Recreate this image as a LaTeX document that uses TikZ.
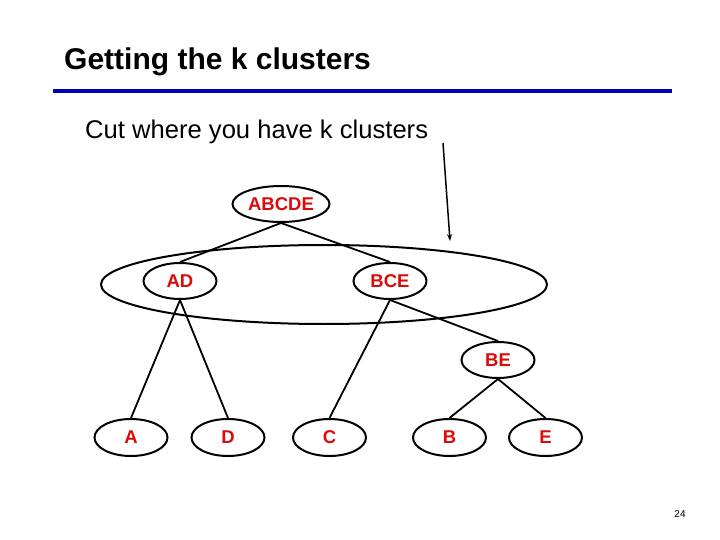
\documentclass[tikz,border=0pt]{standalone}
\usepackage{fontspec}
\setmainfont{Liberation Sans}
\usetikzlibrary{shapes.geometric,arrows.meta}
\definecolor{lblred}{RGB}{220,10,10}
\definecolor{rulebl}{RGB}{0,0,180}
\begin{document}
\begin{tikzpicture}[x=1pt,y=-1pt,
  clus/.style={ellipse,draw=black,line width=2pt,inner sep=0pt,
    minimum width=73pt,minimum height=37pt,text=lblred,
    font=\fontsize{18.5}{20}\selectfont\bfseries},
  edge/.style={line width=1.8pt,black},
  txt/.style={anchor=base west,inner sep=0pt}]
\useasboundingbox (0,0) rectangle (720,540);
\fill[white] (0,0) rectangle (720,540);
% title
\node[txt,font=\fontsize{30}{34}\selectfont\bfseries] (title) at (64,70) {Getting the k clusters};
\coordinate (rl) at (53,91);
\coordinate (rr) at (672,91);
\draw[rulebl,line width=4pt] (rl) -- (rr);
\node[txt,font=\fontsize{25.6}{30}\selectfont] (sub) at (85,139) {Cut where you have k clusters};
% cut ellipse
\node[ellipse,draw=black,line width=2pt,minimum width=446pt,minimum height=79pt,inner sep=0pt] (cut) at (324,284.5) {};
% nodes
\node[clus,minimum width=97pt,minimum height=36pt] (abcde) at (281,204) {ABCDE};
\node[clus,minimum height=36pt] (ad) at (180,281) {AD};
\node[clus,minimum height=36pt] (bce) at (390,281) {BCE};
\node[clus,minimum height=36pt] (be) at (498,360) {BE};
\node[clus] (a) at (131,437.5) {A};
\node[clus] (d) at (228,437.5) {D};
\node[clus] (c) at (329.5,437.5) {C};
\node[clus] (b) at (449.5,437.5) {B};
\node[clus] (e) at (545.5,437.5) {E};
% edges
\draw[edge] (abcde.south) -- (ad.north);
\draw[edge] (abcde.south) -- (bce.north);
\draw[edge] (ad.south) -- (a.north);
\draw[edge] (ad.south) -- (d.north);
\draw[edge] (bce.south) -- (c.north);
\draw[edge] (bce.south) -- (be.north);
\draw[edge] (be.south) -- (b.north);
\draw[edge] (be.south) -- (e.north);
% arrow
\coordinate (as) at (443,143);
\coordinate (ae) at (450,241);
\draw[line width=1.5pt,-{Stealth[length=7pt,width=5pt]}] (as) -- (ae);
% page number
\node[font=\fontsize{10}{12}\selectfont,inner sep=0pt] (pg) at (680,514) {24};
\end{tikzpicture}
\end{document}
